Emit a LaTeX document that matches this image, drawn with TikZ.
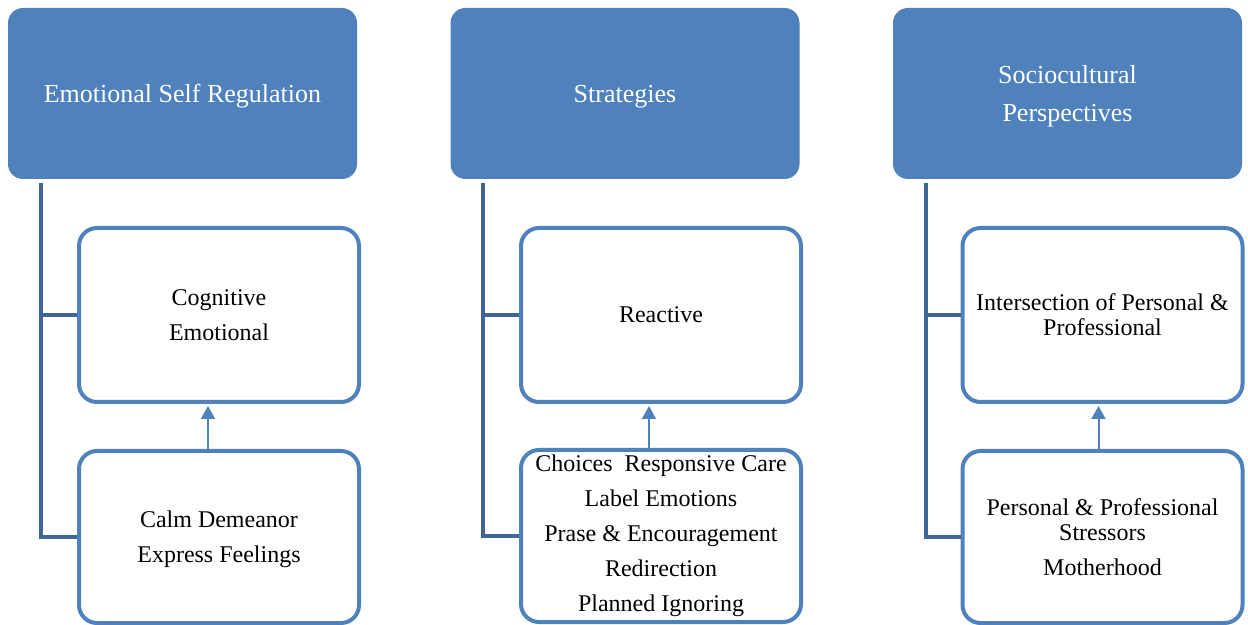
\documentclass[tikz,border=0pt]{standalone}
\usepackage{fontspec}
\setmainfont{Liberation Serif}
\usepackage{tikz}
\usetikzlibrary{arrows.meta}
\definecolor{boxblue}{RGB}{79,129,189}
\definecolor{lineblue}{RGB}{62,102,152}

\begin{document}
\begin{tikzpicture}[-,thick,
			head node/.style={rectangle,rounded corners=7.5pt,fill=boxblue,text=white,
				font=\fontsize{13}{19}\selectfont,align=center,text depth=0pt,
				minimum width=174.5pt,minimum height=85.5pt},
			sub node/.style={rectangle,rounded corners=9pt,draw=boxblue,line width=2pt,
				fill=white,font=\fontsize{12}{17.5}\selectfont,align=center,
				minimum width=140pt,minimum height=87pt,inner sep=1pt},
			branch/.style={draw=lineblue,line width=2pt},
			up/.style={draw=boxblue,line width=1pt,shorten >=1pt,
				-{Triangle[width=7pt,length=6.5pt]}}]
			
			\useasboundingbox (0,0) rectangle (624pt,-312.5pt);
			
			\node[head node] (H1) at (91.25pt,-46.75pt) {Emotional Self Regulation};
			\node[head node] (H2) at (312.5pt,-46.75pt) {Strategies};
			\node[head node] (H3) at (533.75pt,-46.75pt) {Sociocultural\\Perspectives};
			
			\node[sub node] (A1) at (109.5pt,-157.5pt) {Cognitive\\Emotional};
			\node[sub node,minimum height=86pt,text depth=0pt] (B1) at (109.5pt,-268.5pt) {Calm Demeanor\\Express Feelings};
			\node[sub node] (A2) at (330.5pt,-157.5pt) {Reactive};
			\node[sub node,minimum height=86pt] (B2) at (330.5pt,-268pt) {Choices~ Responsive Care\\Label Emotions\\Prase \& Encouragement\\Redirection\\Planned Ignoring};
			\node[sub node] (A3) at (551.25pt,-157.5pt) {Intersection of Personal \&\\[-5pt]Professional};
			\node[sub node,minimum height=86pt] (B3) at (551.25pt,-268.5pt) {Personal \& Professional\\[-5pt]Stressors\\Motherhood};
			
			\draw[branch] ([xshift=17pt,yshift=-1.5pt]H1.south west) |- (A1.west)
			([xshift=17pt,yshift=-1.5pt]H1.south west) |- (B1.west);
			\draw[branch] ([xshift=16.5pt,yshift=-1.5pt]H2.south west) |- (A2.west)
			([xshift=16.5pt,yshift=-1.5pt]H2.south west) |- (B2.west);
			\draw[branch] ([xshift=17pt,yshift=-1.5pt]H3.south west) |- (A3.west)
			([xshift=17pt,yshift=-1.5pt]H3.south west) |- (B3.west);
			
			\draw[up] ([xshift=-5.5pt]B1.north) -- ([xshift=-5.5pt]A1.south);
			\draw[up] ([xshift=-6pt]B2.north) -- ([xshift=-6pt]A2.south);
			\draw[up] ([xshift=-2pt]B3.north) -- ([xshift=-2pt]A3.south);
		\end{tikzpicture}
\end{document}
